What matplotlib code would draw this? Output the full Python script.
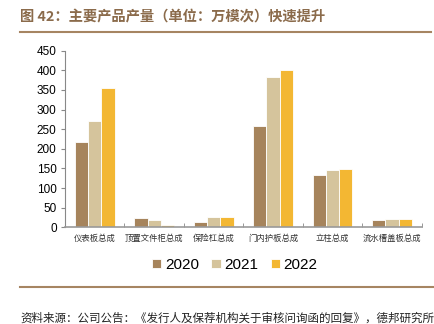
import numpy as np
import matplotlib.pyplot as plt

plt.rcParams['font.family'] = ['Noto Sans CJK SC', 'DejaVu Sans']

categories = ['仪表板总成', '顶置文件柜总成', '保险杠总成', '门内护板总成', '立柱总成', '流水槽盖板总成']
years = ['2020', '2021', '2022']
v2020 = [218, 23, 13, 258, 133, 18]
v2021 = [272, 18, 26, 384, 146, 21]
v2022 = [355, 6, 25, 402, 148, 21]
colors = ['#A6845C', '#D5C49C', '#F3B733']

fig = plt.figure(figsize=(4.35, 3.24), dpi=100)
ax = fig.add_axes([0.1494, 0.2985, 0.82, 0.545])

x = np.arange(len(categories))
w = 0.223
for i, (vals, yr) in enumerate(zip([v2020, v2021, v2022], years)):
    ax.bar(x + (i - 1) * w, vals, w, color=colors[i], edgecolor='white', linewidth=0.6, label=yr)

ax.set_xlim(-0.5, len(categories) - 0.5)
ax.set_ylim(0, 450)
ax.set_yticks(range(0, 451, 50))
ax.set_yticklabels([str(v) for v in range(0, 451, 50)], family='Liberation Sans', fontsize=8.5)
ax.set_xticks(x)
ax.set_xticklabels(categories, fontsize=6, color='#333333')
ax.set_xticks(np.arange(-0.5, len(categories), 1), minor=True)
ax.tick_params(axis='x', which='major', length=0, pad=5)
ax.tick_params(axis='x', which='minor', length=3, direction='in', color='#888888')
ax.tick_params(axis='y', length=3, color='#888888', pad=3)

for s in ['top', 'right']:
    ax.spines[s].set_visible(False)
ax.spines['left'].set_color('#888888')
ax.spines['bottom'].set_color('#999999')
ax.spines['bottom'].set_linewidth(1.2)

fig.legend(loc='center', bbox_to_anchor=(0.54, 0.182), ncol=3, frameon=False,
           handlelength=0.6, handleheight=0.6, handletextpad=0.25,
           columnspacing=0.8, prop={'family': 'Liberation Sans', 'size': 11})

# title and rules
fig.text(0.046, 0.947, '图 42：主要产品产量（单位：万模次）快速提升', fontsize=10.3,
         fontweight='bold', color='#8B6B4B', va='center')
fig.add_artist(plt.Line2D([0.046, 0.99], [0.902, 0.902], color='#A68562', linewidth=1.5))
fig.add_artist(plt.Line2D([0.046, 1.0], [0.114, 0.114], color='#A68562', linewidth=1.5))
fig.text(0.046, 0.018, '资料来源：公司公告：《发行人及保荐机构关于审核问询函的回复》，德邦研究所',
         fontsize=8.3, color='#222222', va='center')

fig.savefig('out.png', dpi=100)
